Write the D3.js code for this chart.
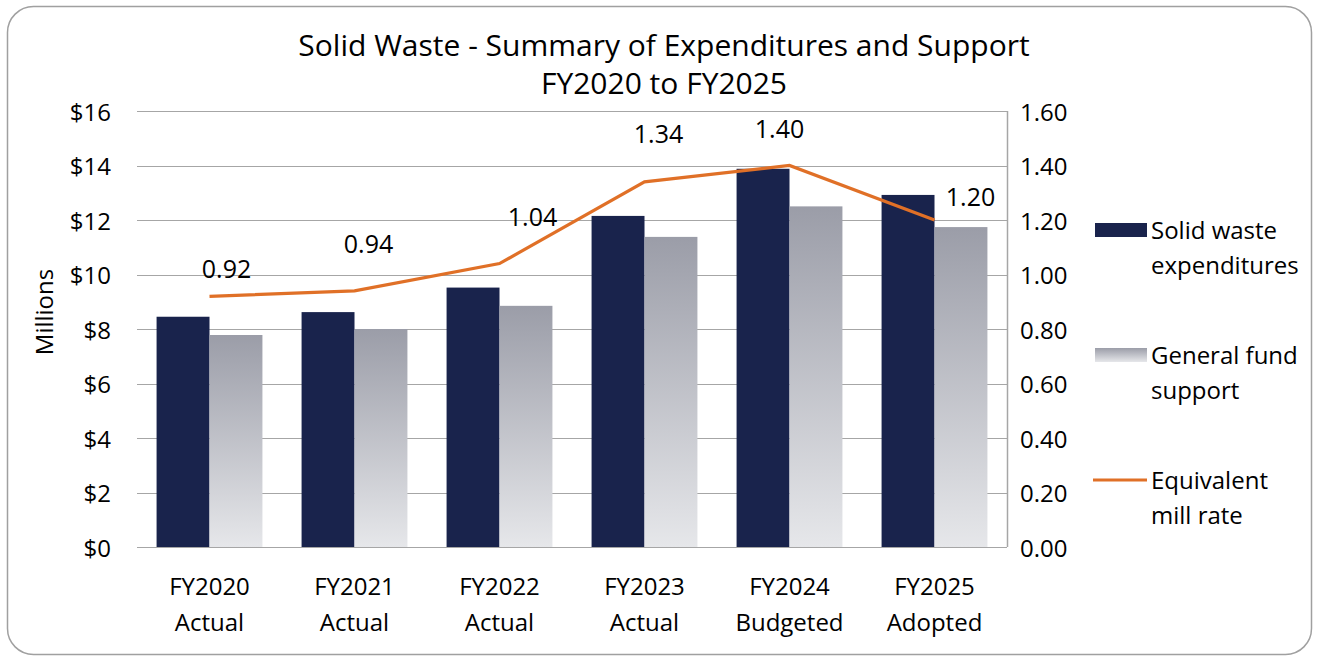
<!DOCTYPE html>
<html><head><meta charset="utf-8">
<script src="https://cdn.jsdelivr.net/npm/d3@7"></script>
<style>body{margin:0;background:#fff}svg text{font-family:"Open Sans","Noto Sans",sans-serif;fill:#000}</style>
</head><body><svg id="c" width="1317" height="660"></svg>
<script>
const categories = [["FY2020","Actual"],["FY2021","Actual"],["FY2022","Actual"],["FY2023","Actual"],["FY2024","Budgeted"],["FY2025","Adopted"]];
const expenditures = [8.45, 8.62, 9.52, 12.15, 13.88, 12.92];
const generalFund = [7.78, 8.0, 8.85, 11.38, 12.5, 11.74];
const millRate = [0.92, 0.94, 1.04, 1.34, 1.40, 1.20];
const leftTicks = [0,2,4,6,8,10,12,14,16];
const rightTicks = [0,0.2,0.4,0.6,0.8,1.0,1.2,1.4,1.6];
const seriesNames = [["Solid waste","expenditures"],["General fund","support"],["Equivalent","mill rate"]];
// label nudges (layout)
const labelDx = [17, 14, 33, 14, -10, 36];
const labelDy = [-28, -48, -48, -49, -38, -24];

const svg = d3.select("#c");
const defs = svg.append("defs");
const g1 = defs.append("linearGradient").attr("id","gf").attr("x1",0).attr("y1",0).attr("x2",0).attr("y2",1);
g1.append("stop").attr("offset","0%").attr("stop-color","#9b9da8");
g1.append("stop").attr("offset","100%").attr("stop-color","#e6e7ea");

svg.append("rect").attr("x",7.5).attr("y",6.5).attr("width",1304).attr("height",648).attr("rx",26).attr("ry",26)
  .attr("fill","#fff").attr("stroke","#a0a0a0").attr("stroke-width",1.5);

const L=137, R=1007, T=111, B=547;
const x = d3.scaleBand().domain(d3.range(categories.length)).range([L,R]).paddingInner(0.27).paddingOuter(0.135);
const y = d3.scaleLinear().domain([0,16]).range([B,T]);
const y2 = d3.scaleLinear().domain([0,1.6]).range([B,T]);

svg.append("g").selectAll("line").data(leftTicks).join("line")
  .attr("x1",L).attr("x2",R).attr("y1",d=>Math.round(y(d))+0.5).attr("y2",d=>Math.round(y(d))+0.5)
  .attr("stroke","#a6a6a6").attr("stroke-width",1.2);
svg.append("line").attr("x1",R+0.5).attr("x2",R+0.5).attr("y1",T).attr("y2",B).attr("stroke","#a6a6a6").attr("stroke-width",1.5);

const bw = x.bandwidth()/2;
svg.append("g").selectAll("rect").data(expenditures).join("rect")
  .attr("x",(d,i)=>x(i)).attr("width",bw).attr("y",d=>y(d)).attr("height",d=>B-y(d)).attr("fill","#19234c");
svg.append("g").selectAll("rect").data(generalFund).join("rect")
  .attr("x",(d,i)=>x(i)+bw).attr("width",bw).attr("y",d=>y(d)).attr("height",d=>B-y(d)).attr("fill","url(#gf)");
svg.append("line").attr("x1",L).attr("x2",R).attr("y1",B+0.5).attr("y2",B+0.5).attr("stroke","#a6a6a6").attr("stroke-width",1.2);

const cx = i => x(i)+x.bandwidth()/2;
svg.append("path").datum(millRate).attr("fill","none").attr("stroke","#e07027").attr("stroke-width",3.2)
  .attr("d", d3.line().x((d,i)=>cx(i)).y(d=>y2(d)));
svg.append("g").selectAll("text").data(millRate).join("text")
  .attr("x",(d,i)=>cx(i)+labelDx[i]).attr("y",(d,i)=>y2(d)+labelDy[i]).attr("text-anchor","middle")
  .attr("dominant-baseline","central").attr("font-size",25).text(d=>d.toFixed(2));

svg.append("g").selectAll("text").data(leftTicks).join("text")
  .attr("x",111).attr("y",d=>y(d)).attr("text-anchor","end").attr("dominant-baseline","central").attr("font-size",24)
  .text(d=>"$"+d);
svg.append("g").selectAll("text").data(rightTicks).join("text")
  .attr("x",1020).attr("y",d=>y2(d)).attr("text-anchor","start").attr("dominant-baseline","central").attr("font-size",24)
  .text(d=>d.toFixed(2));
const cat = svg.append("g").selectAll("text").data(categories).join("text")
  .attr("x",(d,i)=>cx(i)).attr("text-anchor","middle").attr("font-size",24);
cat.append("tspan").attr("x",(d,i)=>cx(i)).attr("y",595).text(d=>d[0]);
cat.append("tspan").attr("x",(d,i)=>cx(i)).attr("y",631).text(d=>d[1]);

svg.append("text").attr("transform","translate(53,312) rotate(-90)").attr("text-anchor","middle").attr("font-size",24).text("Millions");

const title = svg.append("text").attr("text-anchor","middle").attr("font-size",30);
title.append("tspan").attr("x",664).attr("y",56).text("Solid Waste - Summary of Expenditures and Support");
title.append("tspan").attr("x",664).attr("y",94).text("FY2020 to FY2025");

const lg = svg.append("g");
const ly = [230, 355, 480];
const lg2 = defs.append("linearGradient").attr("id","lgf").attr("x1",0).attr("y1",0).attr("x2",0).attr("y2",1);
lg2.append("stop").attr("offset","0%").attr("stop-color","#9b9da8");
lg2.append("stop").attr("offset","100%").attr("stop-color","#e6e7ea");
lg.append("rect").attr("x",1095).attr("y",ly[0]-7).attr("width",52).attr("height",14).attr("fill","#19234c");
lg.append("rect").attr("x",1095).attr("y",ly[1]-7).attr("width",52).attr("height",14).attr("fill","url(#lgf)");
lg.append("line").attr("x1",1093).attr("x2",1147).attr("y1",ly[2]).attr("y2",ly[2]).attr("stroke","#e07027").attr("stroke-width",3.2);
seriesNames.forEach((n,i)=>{
  const t = lg.append("text").attr("font-size",24);
  t.append("tspan").attr("x",1151).attr("y",ly[i]+9).text(n[0]);
  t.append("tspan").attr("x",1151).attr("y",ly[i]+44).text(n[1]);
});
</script></body></html>
